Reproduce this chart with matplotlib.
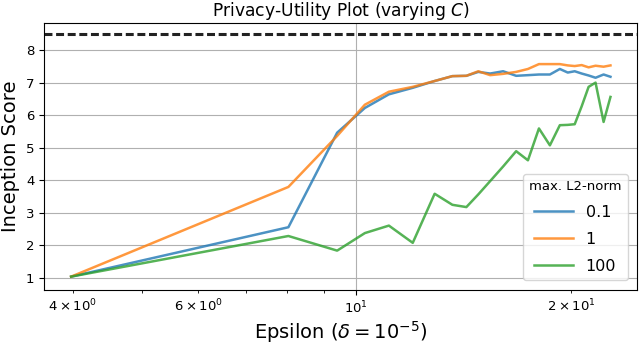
import numpy as np
import matplotlib
matplotlib.use('Agg')
import matplotlib.pyplot as plt

# epsilon values of the checkpoints (delta = 1e-5)
eps = [3.98, 8.03, 9.40, 10.28, 11.11, 12.0, 12.88, 13.64, 14.27, 14.83, 15.41,
       16.07, 16.76, 17.41, 18.04, 18.69, 19.3, 19.8, 20.25, 20.71, 21.18,
       21.66, 22.23, 22.73]

# inception score for each max. L2-norm
is_c01 = [1.03, 2.55, 5.46, 6.22, 6.64, 6.84, 7.05, 7.20, 7.21, 7.33, 7.28,
          7.35, 7.21, 7.23, 7.25, 7.25, 7.42, 7.31, 7.35, 7.28, 7.22, 7.15,
          7.25, 7.18]
is_c1 = [1.03, 3.79, 5.36, 6.32, 6.72, 6.87, 7.05, 7.20, 7.21, 7.35, 7.23,
         7.27, 7.33, 7.42, 7.57, 7.57, 7.57, 7.53, 7.51, 7.54, 7.47, 7.52,
         7.49, 7.53]
is_c100 = [1.03, 2.28, 1.83, 2.37, 2.60, 2.07, 3.58, 3.24, 3.17, 3.56, 3.97,
           4.42, 4.89, 4.61, 5.59, 5.07, 5.69, 5.70, 5.72, 6.27, 6.87, 7.0,
           5.79, 6.56]

real_is = 8.5

labels = ['0.1', '1', '100']

fig = plt.figure(figsize=(6.4, 3.46), dpi=100)
ax = fig.add_axes([0.069, 0.162, 0.927, 0.772])

lw = 1.8
ax.plot(eps, is_c01, color='tab:blue', lw=lw, alpha=0.8, label=labels[0])
ax.plot(eps, is_c1, color='tab:orange', lw=lw, alpha=0.8, label=labels[1])
ax.plot(eps, is_c100, color='tab:green', lw=lw, alpha=0.8, label=labels[2])
ax.axhline(real_is, color='#222222', linestyle='--', lw=2.2, dashes=(2.6, 1.2))

ax.set_xscale('log')
ax.set_ylim(0.62, 8.84)
ax.grid(True)
ax.tick_params(labelsize=9.5)
ax.tick_params(axis='x', which='minor', labelsize=9.5)

ax.set_title('Privacy-Utility Plot (varying $C$)', fontsize=12.3, pad=5)
ax.set_xlabel(r'Epsilon ($\delta = 10^{-5}$)', fontsize=14, labelpad=2)
ax.set_ylabel('Inception Score', fontsize=14)

leg = ax.legend(title='max. L2-norm', loc='lower right', fontsize=11.5,
                title_fontsize=9.5, handlelength=2.4, labelspacing=0.75,
                borderaxespad=0.6)

plt.savefig('out.png', dpi=100)
